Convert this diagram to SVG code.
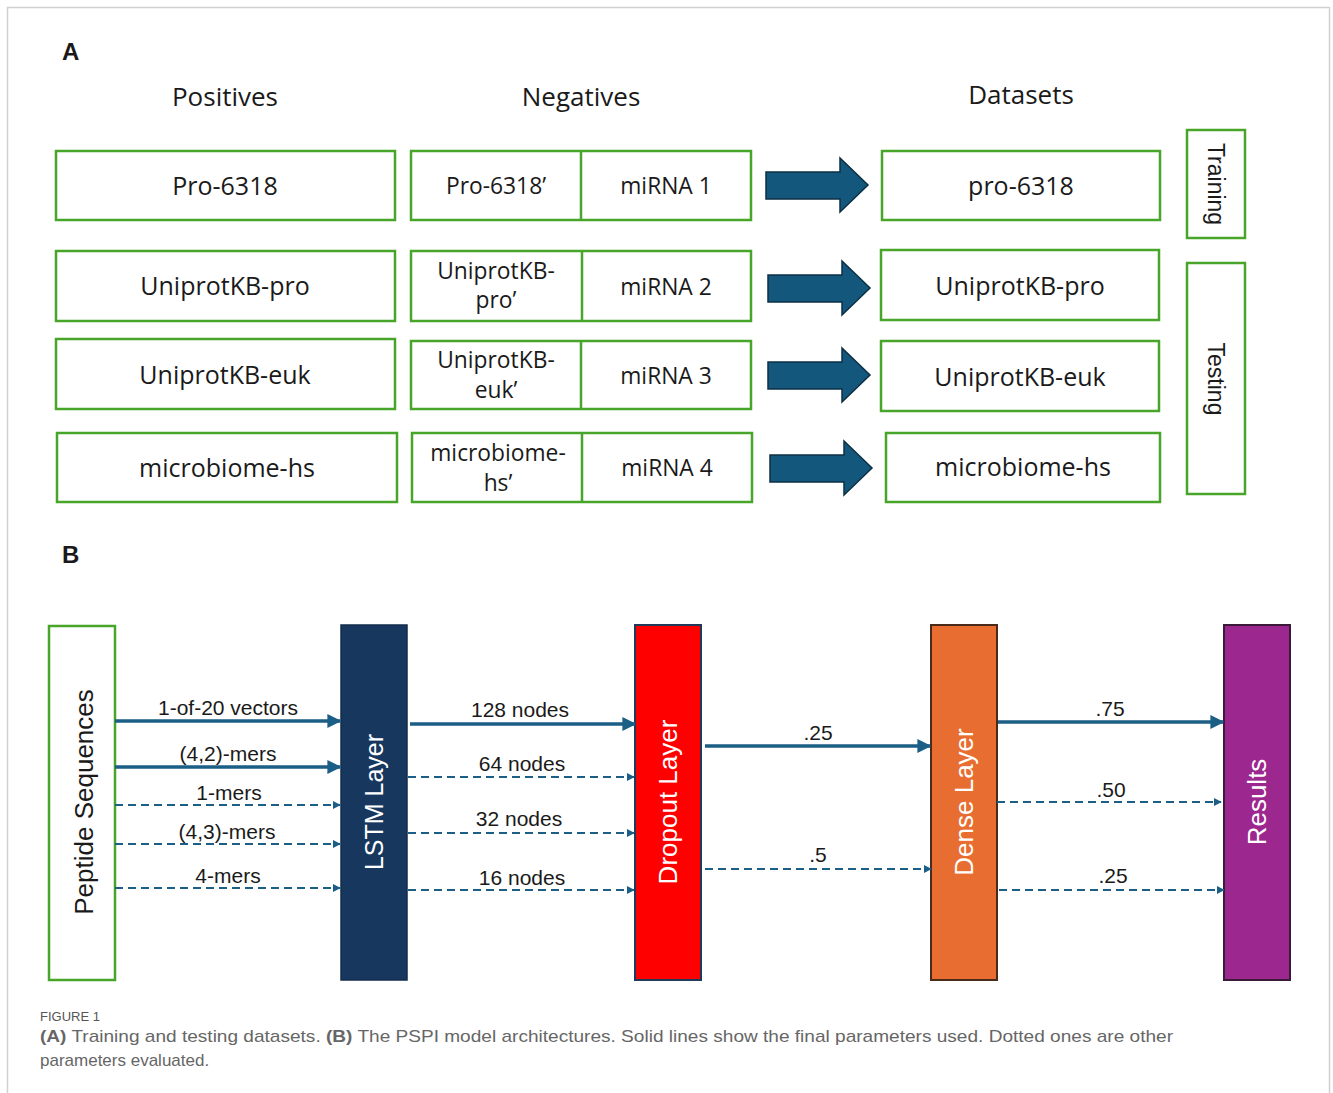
<svg xmlns="http://www.w3.org/2000/svg" width="1333" height="1093" viewBox="0 0 1333 1093">
<style>
text{font-family:"Liberation Sans",Arial,sans-serif;fill:#1a1a1a}
.os{font-family:"Open Sans","Liberation Sans",sans-serif}
.box{fill:#fff;stroke:#47a62a;stroke-width:2.5}
.t24{font-size:25px;text-anchor:middle}
.t21{font-size:22.8px;text-anchor:middle}
.t20{font-size:21px;text-anchor:middle}
.hd{font-size:26px;text-anchor:middle}
.lbl{font-size:24px;font-weight:bold}
.big{fill:#13587c;stroke:#0d2f44;stroke-width:1.5}
.sol{stroke:#1b5e86;stroke-width:3.5;fill:none}
.das{stroke:#1b5e86;stroke-width:2;fill:none;stroke-dasharray:8 5}
.vt{font-size:25px;text-anchor:middle;fill:#fff}
.cap{font-size:17px;fill:#666}
</style>
<defs>
<marker id="ah" viewBox="0 0 10 10" refX="9" refY="5" markerWidth="4" markerHeight="4" orient="auto" markerUnits="strokeWidth"><path d="M0,0 L10,5 L0,10 z" fill="#1b5e86"/></marker>
<marker id="ahd" viewBox="0 0 10 10" refX="9" refY="5" markerWidth="4" markerHeight="4" orient="auto" markerUnits="strokeWidth"><path d="M0,0 L10,5 L0,10 z" fill="#1b5e86"/></marker>
<path id="bigArrow" d="M0,14 L74,14 L74,0 L102,27 L74,54 L74,41 L0,41 z"/>
</defs>
<rect x="7.5" y="7.5" width="1322" height="1100" fill="#fff" stroke="#d0d0d0" stroke-width="1.5"/>

<text x="62" y="60" class="lbl">A</text>
<text x="225" y="106" class="hd os">Positives</text>
<text x="581" y="106" class="hd os">Negatives</text>
<text x="1021" y="104" class="hd os">Datasets</text>

<g id="pos1"><rect class="box" x="56" y="151" width="339" height="69"/><text class="t24 os" x="225" y="195">Pro-6318</text></g>
<g id="pos2"><rect class="box" x="56" y="251" width="339" height="70"/><text class="t24 os" x="225" y="295">UniprotKB-pro</text></g>
<g id="pos3"><rect class="box" x="56" y="339" width="339" height="70"/><text class="t24 os" x="225" y="384">UniprotKB-euk</text></g>
<g id="pos4"><rect class="box" x="57" y="433" width="340" height="69"/><text class="t24 os" x="227" y="477">microbiome-hs</text></g>

<g id="neg1"><rect class="box" x="411" y="151" width="340" height="69"/><line x1="581" y1="151" x2="581" y2="220" stroke="#47a62a" stroke-width="2.5"/><text class="t21 os" x="496" y="194">Pro-6318’</text><text class="t21 os" x="666" y="194">miRNA 1</text></g>
<g id="neg2"><rect class="box" x="411" y="251" width="340" height="70"/><line x1="582" y1="251" x2="582" y2="321" stroke="#47a62a" stroke-width="2.5"/><text class="t21 os" x="496" y="279">UniprotKB-</text><text class="t21 os" x="496" y="308">pro’</text><text class="t21 os" x="666" y="295">miRNA 2</text></g>
<g id="neg3"><rect class="box" x="411" y="341" width="340" height="68"/><line x1="581" y1="341" x2="581" y2="409" stroke="#47a62a" stroke-width="2.5"/><text class="t21 os" x="496" y="368">UniprotKB-</text><text class="t21 os" x="496" y="398">euk’</text><text class="t21 os" x="666" y="384">miRNA 3</text></g>
<g id="neg4"><rect class="box" x="412" y="433" width="340" height="69"/><line x1="582" y1="433" x2="582" y2="502" stroke="#47a62a" stroke-width="2.5"/><text class="t21 os" x="498" y="461">microbiome-</text><text class="t21 os" x="498" y="491">hs’</text><text class="t21 os" x="667" y="476">miRNA 4</text></g>

<g id="ds1"><rect class="box" x="882" y="151" width="278" height="69"/><text class="t24 os" x="1021" y="195">pro-6318</text></g>
<g id="ds2"><rect class="box" x="881" y="250" width="278" height="70"/><text class="t24 os" x="1020" y="295">UniprotKB-pro</text></g>
<g id="ds3"><rect class="box" x="881" y="341" width="278" height="70"/><text class="t24 os" x="1020" y="386">UniprotKB-euk</text></g>
<g id="ds4"><rect class="box" x="886" y="433" width="274" height="69"/><text class="t24 os" x="1023" y="476">microbiome-hs</text></g>

<g id="training"><rect class="box" x="1187" y="130" width="58" height="108"/><text style="font-size:23px;text-anchor:middle" transform="translate(1208,184) rotate(90)">Training</text></g>
<g id="testing"><rect class="box" x="1187" y="263" width="58" height="231"/><text style="font-size:23px;text-anchor:middle" transform="translate(1208,379) rotate(90)">Testing</text></g>

<g id="bigArrows">
<use href="#bigArrow" class="big" x="766" y="158"/>
<use href="#bigArrow" class="big" x="768" y="261"/>
<use href="#bigArrow" class="big" x="768" y="348"/>
<use href="#bigArrow" class="big" x="770" y="441"/>
</g>

<text x="62" y="563" class="lbl">B</text>

<g id="peptide"><rect class="box" x="49" y="626" width="66" height="354"/><text class="vt" style="fill:#1a1a1a;font-size:26px" transform="translate(93,802) rotate(-90)">Peptide Sequences</text></g>
<g id="lstm"><rect x="341" y="625" width="66" height="355" fill="#17375e" stroke="#122c4c" stroke-width="1.5"/><text class="vt" transform="translate(383,802) rotate(-90)">LSTM Layer</text></g>
<g id="dropout"><rect x="635" y="625" width="66" height="355" fill="#ff0000" stroke="#1f3a5a" stroke-width="2"/><text class="vt" style="font-size:26px" transform="translate(677,802) rotate(-90)">Dropout Layer</text></g>
<g id="dense"><rect x="931" y="625" width="66" height="355" fill="#e86d30" stroke="#4a2a18" stroke-width="2"/><text class="vt" style="font-size:26px" transform="translate(973,802) rotate(-90)">Dense Layer</text></g>
<g id="results"><rect x="1224" y="625" width="66" height="355" fill="#9c278f" stroke="#3a1a38" stroke-width="2"/><text class="vt" style="font-size:26px" transform="translate(1266,802) rotate(-90)">Results</text></g>

<g id="connectors">
<line class="sol" x1="115" y1="721" x2="340" y2="721" marker-end="url(#ah)"/>
<line class="sol" x1="115" y1="767" x2="340" y2="767" marker-end="url(#ah)"/>
<line class="das" x1="115" y1="805" x2="340" y2="805" marker-end="url(#ahd)"/>
<line class="das" x1="115" y1="844" x2="340" y2="844" marker-end="url(#ahd)"/>
<line class="das" x1="115" y1="888" x2="340" y2="888" marker-end="url(#ahd)"/>

<line class="sol" x1="410" y1="724" x2="635" y2="724" marker-end="url(#ah)"/>
<line class="das" x1="408" y1="777" x2="634" y2="777" marker-end="url(#ahd)"/>
<line class="das" x1="408" y1="833" x2="634" y2="833" marker-end="url(#ahd)"/>
<line class="das" x1="408" y1="890" x2="634" y2="890" marker-end="url(#ahd)"/>

<line class="sol" x1="705" y1="746" x2="930" y2="746" marker-end="url(#ah)"/>
<line class="das" x1="705" y1="869" x2="931" y2="869" marker-end="url(#ahd)"/>

<line class="sol" x1="998" y1="722" x2="1223" y2="722" marker-end="url(#ah)"/>
<line class="das" x1="997" y1="802" x2="1221" y2="802" marker-end="url(#ahd)"/>
<line class="das" x1="999" y1="890" x2="1224" y2="890" marker-end="url(#ahd)"/>

<text class="t20" x="228" y="715">1-of-20 vectors</text>
<text class="t20" x="228" y="761">(4,2)-mers</text>
<text class="t20" x="229" y="800">1-mers</text>
<text class="t20" x="227" y="839">(4,3)-mers</text>
<text class="t20" x="228" y="883">4-mers</text>
<text class="t20" x="520" y="717">128 nodes</text>
<text class="t20" x="522" y="771">64 nodes</text>
<text class="t20" x="519" y="826">32 nodes</text>
<text class="t20" x="522" y="885">16 nodes</text>
<text class="t20" x="818" y="740">.25</text>
<text class="t20" x="818" y="862">.5</text>
<text class="t20" x="1110" y="716">.75</text>
<text class="t20" x="1111" y="797">.50</text>
<text class="t20" x="1113" y="883">.25</text>
</g>

<text x="40" y="1021" style="font-size:13px;fill:#555">FIGURE 1</text>
<text x="40" y="1042" class="cap" textLength="1133" lengthAdjust="spacingAndGlyphs"><tspan font-weight="bold">(A)</tspan> Training and testing datasets. <tspan font-weight="bold">(B)</tspan> The PSPI model architectures. Solid lines show the final parameters used. Dotted ones are other</text>
<text x="40" y="1066" class="cap">parameters evaluated.</text>
</svg>
